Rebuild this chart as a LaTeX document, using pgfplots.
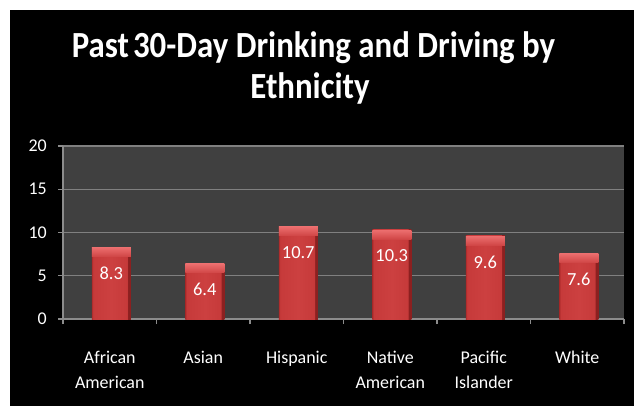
\documentclass[border=0pt]{standalone}
\usepackage{fontspec}
\setmainfont{Carlito}
\usepackage{pgfplots}
\pgfplotsset{compat=1.18}
\definecolor{plotgray}{RGB}{64,64,64}
\definecolor{gridgray}{RGB}{128,128,128}
\definecolor{axisgray}{RGB}{140,140,140}
\definecolor{bL}{RGB}{170,42,42}
\definecolor{bM}{RGB}{198,58,58}
\definecolor{bC}{RGB}{204,64,64}
\definecolor{bR}{RGB}{140,32,32}
\definecolor{bevTop}{RGB}{236,110,110}
\definecolor{bevBot}{RGB}{208,70,70}
\pgfdeclarehorizontalshading{barbody}{100bp}{color(0bp)=(bL); color(25bp)=(bL); color(26.8bp)=(bM); color(50bp)=(bC); color(70.5bp)=(bM); color(71.5bp)=(bR); color(75bp)=(bR); color(100bp)=(bR)}
\pgfplotstableread{
x y
0 8.3
1 6.4
2 10.7
3 10.3
4 9.6
5 7.6
}\datatable
\begin{document}
\begin{tikzpicture}[x=1bp,y=1bp]
\useasboundingbox (0,0) rectangle (634,406);
\fill[white] (0,0) rectangle (634,406);
\fill[black] (9.5,0) rectangle (634,396);
\node[anchor=base, text=white, font=\fontsize{33}{38}\selectfont\bfseries, inner sep=0pt] at (313.5,349) {\scalebox{1}[1.12]{Past\hspace{0.12em}30-Day Drinking and Driving by}};
\node[anchor=base, text=white, font=\fontsize{33}{38}\selectfont\bfseries, inner sep=0pt] at (310,307.7) {\scalebox{1}[1.12]{Ethnicity}};
\begin{axis}[
  at={(63bp,87bp)}, anchor=south west,
  scale only axis, width=561bp, height=173bp,
  xmin=-0.5, xmax=5.5, ymin=0, ymax=20,
  axis background/.style={fill=plotgray},
  axis x line*=bottom, axis y line*=left,
  axis line style={draw=axisgray, line width=1.2bp},
  tick align=outside, major tick length=5bp,
  tick style={draw=axisgray, line width=1.2bp},
  ymajorgrids, grid style={draw=gridgray, line width=1.2bp},
  ytick={0,5,10,15,20},
  xtick={-0.5,0.5,1.5,2.5,3.5,4.5,5.5}, xticklabels={},
  extra x ticks={0,1,2,3,4,5},
  extra x tick labels={{\strut African\\American},{\strut Asian},{\strut Hispanic},{\strut Native\\American},{\strut Pacific\\Islander},{\strut White}},
  extra x tick style={major tick length=0pt},
  /pgf/number format/assume math mode=true,
  ticklabel style={font=\fontsize{18}{25}\selectfont, text=white},
  xticklabel style={align=center, anchor=north, inner sep=0pt, yshift=-27bp},
  yticklabel style={anchor=east, inner sep=0pt, xshift=-11bp},
  ybar, bar width=39bp,
  bevel/.style={nodes near coords={},
    every node near coord/.append style={anchor=north, inner sep=0pt, minimum width=39bp, minimum height=9bp, top color=bevTop, bottom color=bevBot, draw=none}},
  barstyle/.style={draw=none, shading=barbody, bar shift=1.5bp, bevel},
]
\addplot[barstyle] coordinates {(0,8.3)};
\addplot[barstyle] coordinates {(1,6.4)};
\addplot[barstyle] coordinates {(2,10.7)};
\addplot[barstyle] coordinates {(3,10.3)};
\addplot[barstyle] coordinates {(4,9.6)};
\addplot[barstyle] coordinates {(5,7.6)};
\addplot[draw=none, fill=none, bar shift=1.5bp,
  nodes near coords, point meta=explicit symbolic,
  every node near coord/.append style={anchor=center, yshift=-26bp, text=white, font=\fontsize{18.5}{20}\selectfont}
] table[x=x,y=y,meta=y] {\datatable};
\end{axis}
\end{tikzpicture}
\end{document}
